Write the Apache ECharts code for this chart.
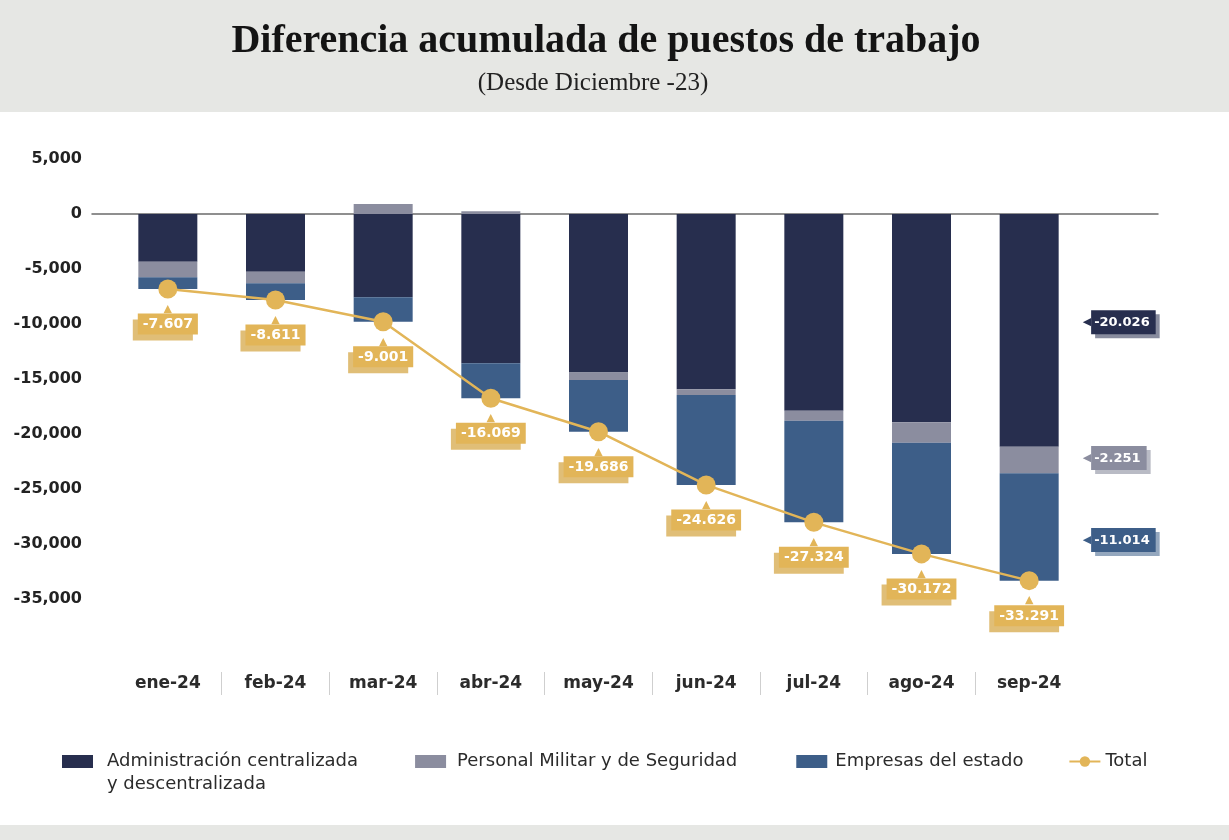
<!DOCTYPE html>
<html>
<head>
<meta charset="utf-8">
<script src="https://cdn.jsdelivr.net/npm/echarts@6/dist/echarts.min.js"></script>
<style>
  html, body { margin: 0; padding: 0; background: #fff; }
  #chart { width: 1229px; height: 840px; }
</style>
</head>
<body>
<div id="chart"></div>
<script>
// datos
const meses = ["ene-24", "feb-24", "mar-24", "abr-24", "may-24", "jun-24", "jul-24", "ago-24", "sep-24"];
const administracion = [-4340, -5240, -7570, -13570, -14420, -15940, -17880, -18940, -21150];
const militar = [-1420, -1060, 900, 250, -670, -520, -910, -1850, -2420];
const empresas = [-1060, -1520, -2220, -3180, -4700, -8170, -9240, -10110, -9760];
const total = [-6820, -7820, -9790, -16750, -19790, -24630, -28030, -30900, -33330];
const totalEtiquetas = ["-7.607", "-8.611", "-9.001", "-16.069", "-19.686", "-24.626", "-27.324", "-30.172", "-33.291"];
const ultimoEtiquetas = ["-20.026", "-2.251", "-11.014"];
const yTicks = [5000, 0, -5000, -10000, -15000, -20000, -25000, -30000, -35000];

const NAVY = "#272e4e";
const GRIS = "#8b8d9f";
const AZUL = "#3d5e88";
const ORO = "#e2b558";
const FONT = "DejaVu Sans";

const chart = echarts.init(document.getElementById("chart"));

function sideLabel(text, color, shadow, dy) {
	return {
		show: true,
		position: "right",
		distance: 24,
		offset: [0, dy],
		formatter: "{a|\u25C0}{b|" + text + "}",
		rich: {
			a: { color: color, fontSize: 11, fontFamily: FONT },
			b: {
				color: "#fff",
				fontSize: 13,
				fontWeight: "bold",
				fontFamily: FONT,
				backgroundColor: color,
				padding: [6, 6, 5, 3],
				shadowColor: shadow,
				shadowOffsetX: 4,
				shadowOffsetY: 4,
				shadowBlur: 0,
			},
		},
	};
}

function withLast(values, label) {
	return values.map((v, i) => (i === values.length - 1 ? { value: v, label: label } : v));
}

const option = {
	backgroundColor: "#ffffff",
	animation: false,
	graphic: [
		{ type: "rect", z: -10, shape: { x: 0, y: 0, width: 1229, height: 112 }, style: { fill: "#e6e7e4" } },
		{ type: "rect", z: -10, shape: { x: 0, y: 825, width: 1229, height: 15 }, style: { fill: "#e6e7e4" } },
	],
	title: [
		{
			text: "Diferencia acumulada de puestos de trabajo",
			left: 601,
			textAlign: "center",
			top: 17,
			textStyle: { fontFamily: "Liberation Serif", fontSize: 40, fontWeight: "bold", color: "#141414" },
		},
		{
			text: "(Desde Diciembre -23)",
			left: 588,
			textAlign: "center",
			top: 66,
			textStyle: { fontFamily: "Liberation Serif", fontSize: 25, fontWeight: "normal", color: "#222" },
		},
	],
	legend: {
		left: 62,
		top: 727,
		padding: 0,
		itemWidth: 31,
		itemHeight: 13,
		itemGap: 0,
		textStyle: { fontFamily: FONT, fontSize: 18, color: "#2b2b2b", lineHeight: 23 },
		data: [
			{
				name: "Administración centralizada y descentralizada",
				icon: "rect",
				textStyle: { padding: [0, 57, 0, 9] },
			},
			{ name: "Personal Militar y de Seguridad", icon: "rect", textStyle: { padding: [0, 59, 0, 6] } },
			{ name: "Empresas del estado", icon: "rect", textStyle: { padding: [0, 45, 0, 3] } },
			{ name: "Total", textStyle: { padding: [0, 0, 0, 0] } },
		],
		formatter: (n) => n.replace("Administración centralizada y ", "\nAdministración centralizada\ny "),
	},
	grid: [
		{ left: 92, right: 71, top: 159, bottom: 186 },
		{ left: 114, right: 146, top: 159, bottom: 186 },
		{ left: 114, right: 146, top: 672, height: 23 },
	],
	xAxis: [
		{
			gridIndex: 0,
			type: "value",
			min: 0,
			max: 1,
			axisLine: { show: true, onZero: true, lineStyle: { color: "#6b6b6b", width: 1.5 } },
			axisTick: { show: false },
			axisLabel: { show: false },
			splitLine: { show: false },
		},
		{
			gridIndex: 1,
			type: "category",
			data: meses,
			show: false,
		},
		{
			gridIndex: 2,
			type: "category",
			data: meses,
			axisLine: { show: false },
			axisTick: { show: false },
			splitLine: { show: true, showMinLine: false, showMaxLine: false, lineStyle: { color: "#cfcfcf", width: 1 } },
			axisLabel: {
				margin: -11,
				verticalAlign: "middle",
				fontFamily: FONT,
				fontSize: 17,
				fontWeight: "bold",
				color: "#2b2b2b",
			},
		},
	],
	yAxis: [
		{
			gridIndex: 0,
			type: "value",
			min: -40000,
			max: 5000,
			interval: 5000,
			axisLine: { show: false },
			axisTick: { show: false },
			splitLine: { show: false },
			axisLabel: {
				margin: 10,
				fontFamily: FONT,
				fontSize: 16,
				fontWeight: "bold",
				color: "#222",
				formatter: (v) => (yTicks.indexOf(v) >= 0 ? v.toLocaleString("en-US") : ""),
			},
		},
		{ gridIndex: 1, type: "value", min: -40000, max: 5000, interval: 5000, show: false },
		{ gridIndex: 2, type: "value", show: false },
	],
	series: [
		{
			name: "Administración centralizada y descentralizada",
			type: "bar",
			xAxisIndex: 1,
			yAxisIndex: 1,
			stack: "t",
			barWidth: 59,
			itemStyle: { color: NAVY },
			data: withLast(administracion, sideLabel(ultimoEtiquetas[0], NAVY, "rgba(39,46,78,0.55)", -8)),
		},
		{
			name: "Personal Militar y de Seguridad",
			type: "bar",
			xAxisIndex: 1,
			yAxisIndex: 1,
			stack: "t",
			barWidth: 59,
			itemStyle: { color: GRIS },
			data: withLast(militar, sideLabel(ultimoEtiquetas[1], GRIS, "rgba(139,141,159,0.6)", -2)),
		},
		{
			name: "Empresas del estado",
			type: "bar",
			xAxisIndex: 1,
			yAxisIndex: 1,
			stack: "t",
			barWidth: 59,
			itemStyle: { color: AZUL },
			data: withLast(empresas, sideLabel(ultimoEtiquetas[2], AZUL, "rgba(61,94,136,0.55)", 13)),
		},
		{
			name: "Total",
			type: "line",
			xAxisIndex: 1,
			yAxisIndex: 1,
			symbol: "circle",
			symbolSize: 19,
			itemStyle: { color: ORO },
			lineStyle: { color: ORO, width: 2.5 },
			data: total,
			z: 5,
			label: {
				show: true,
				position: "bottom",
				distance: 6,
				formatter: (p) => "{p|\u25B2}\n{b|" + totalEtiquetas[p.dataIndex] + "}",
				rich: {
					p: { color: ORO, fontSize: 11, lineHeight: 9, fontFamily: FONT, align: "center" },
					b: {
						color: "#fff",
						fontSize: 14,
						fontWeight: "bold",
						fontFamily: FONT,
						align: "center",
						backgroundColor: ORO,
						padding: [4, 5, 3, 5],
						shadowColor: "rgba(214,168,74,0.75)",
						shadowOffsetX: -5,
						shadowOffsetY: 6,
						shadowBlur: 0,
					},
				},
			},
		},
	],
};

chart.setOption(option);
</script>
</body>
</html>
